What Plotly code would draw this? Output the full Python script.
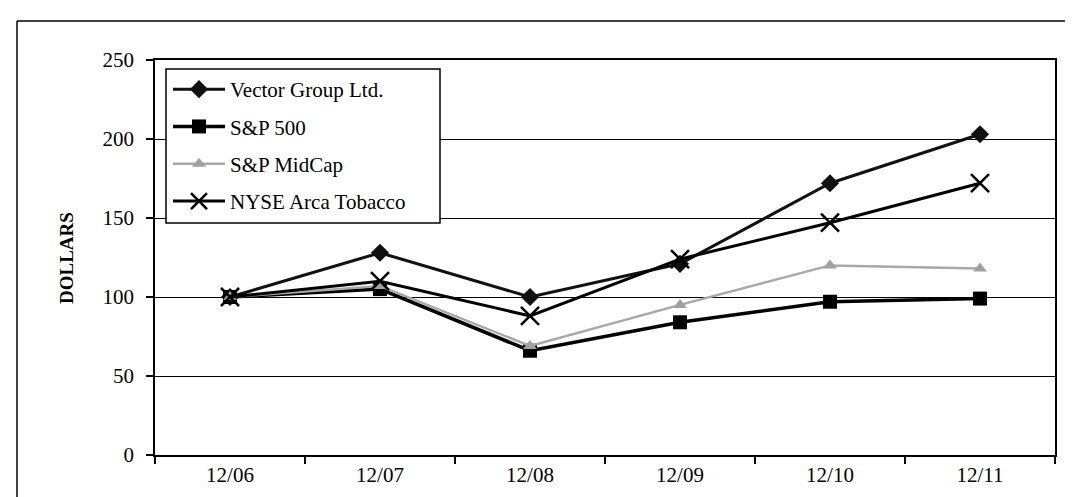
import plotly.graph_objects as go

categories = ["12/06", "12/07", "12/08", "12/09", "12/10", "12/11"]
vector_group = [100, 128, 100, 121, 172, 203]
sp500 = [100, 105, 66, 84, 97, 99]
sp_midcap = [100, 107, 69, 95, 120, 118]
nyse_tobacco = [100, 110, 88, 124, 147, 172]
y_ticks = [0, 50, 100, 150, 200, 250]

W, H = 1073, 497
L, R, T, B = 147, 1047, 52, 447


def px(x):
    return (x - L) / (R - L)


def py(y):
    return (B - y) / (B - T)


fig = go.Figure()
fig.add_trace(go.Scatter(x=categories, y=vector_group, name="Vector Group Ltd.",
                         mode="lines+markers", legendgroup="a",
                         line=dict(color="#111111", width=3),
                         marker=dict(symbol="diamond", size=14, color="#111111")))
fig.add_trace(go.Scatter(x=categories, y=sp500, name="S&P 500",
                         mode="lines+markers", legendgroup="b",
                         line=dict(color="#000000", width=3.5),
                         marker=dict(symbol="square", size=14, color="#000000")))
fig.add_trace(go.Scatter(x=categories, y=sp_midcap, name="S&P MidCap",
                         mode="lines+markers", legendgroup="c",
                         line=dict(color="#a8a8a8", width=2.5),
                         marker=dict(symbol="triangle-up", size=12, color="#a0a0a0")))
fig.add_trace(go.Scatter(x=categories, y=nyse_tobacco, name="NYSE Arca Tobacco",
                         mode="lines+markers", legendgroup="d",
                         line=dict(color="#000000", width=3),
                         marker=dict(symbol="x-thin", size=18,
                                     line=dict(color="#000000", width=2.5))))

fig.update_layout(
    width=W, height=H,
    margin=dict(l=L, r=W - R, t=T, b=H - B),
    paper_bgcolor="white", plot_bgcolor="white",
    font=dict(family="Liberation Serif", color="black", size=21),
    showlegend=True,
    legend=dict(x=px(160), y=py(61), xanchor="left", yanchor="top",
                bgcolor="rgba(0,0,0,0)", borderwidth=0,
                font=dict(size=21, family="Liberation Serif"),
                itemwidth=52, tracegroupgap=7, traceorder="grouped"),
    xaxis=dict(type="category", range=[-0.5, 5.5], tickson="boundaries",
               ticks="outside", ticklen=7, tickcolor="black", tickwidth=1.5,
               showline=True, linecolor="black", linewidth=1.5, mirror=True,
               showgrid=False, zeroline=False,
               tickfont=dict(size=21, family="Liberation Serif")),
    yaxis=dict(range=[0, 250], tickvals=y_ticks, ticks="outside", ticklen=7,
               tickcolor="black", tickwidth=1.5, ticklabelstandoff=8,
               showline=True, linecolor="black", linewidth=1.5, mirror=True,
               showgrid=True, gridcolor="black", gridwidth=1.2, zeroline=False,
               tickfont=dict(size=21, family="Liberation Serif")),
    annotations=[dict(text="<b>DOLLARS</b>", textangle=-90, showarrow=False,
                      xref="paper", yref="paper",
                      x=px(58), y=py(250),
                      xanchor="center", yanchor="middle",
                      font=dict(size=19, family="Liberation Serif", color="black"))],
    shapes=[
        dict(type="line", xref="paper", yref="paper",
             x0=px(9), x1=px(9), y0=py(13), y1=py(500),
             line=dict(color="black", width=1.5)),
        dict(type="line", xref="paper", yref="paper",
             x0=px(9), x1=px(1075), y0=py(13), y1=py(13),
             line=dict(color="black", width=1.5)),
        dict(type="rect", xref="paper", yref="paper",
             x0=px(158), x1=px(432), y0=py(61), y1=py(215),
             fillcolor="white", line=dict(color="black", width=1.5)),
    ],
)

fig.write_html("out.html")
